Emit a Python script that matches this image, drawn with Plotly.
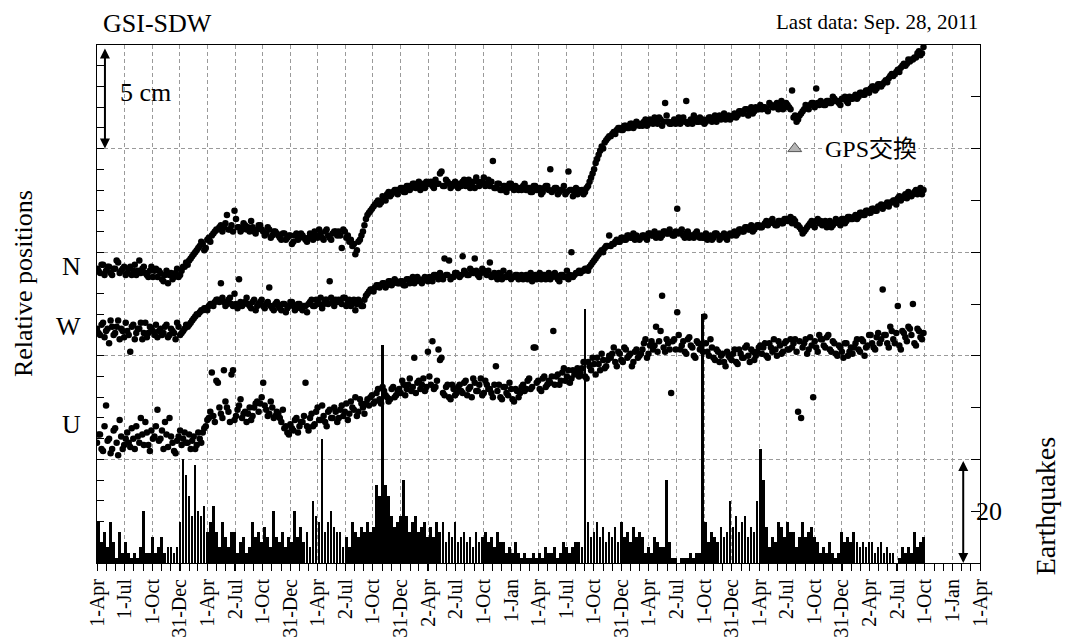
import pandas as pd
import plotly.graph_objects as go

# ---------------- data ----------------
# two interleaved sets of readings, every 10 days, offset by 5 days
START_A = "2004-04-01"
START_B = "2004-04-06"
STEP = "10D"
N_POINTS = 274

# relative positions in mm (axis 0..250 mm)
N_a = [
    142,140,144,141,143,139,142,145,141,143,
    140,143,141,139,146,142,140,138,143,141,
    138,140,136,141,139,137,140,138,141,143,
    144,147,149,151,153,154,152,157,158,160,
    161,163,162,168,161,160,166,162,161,163,
    162,165,160,161,163,160,159,161,158,160,
    158,156,159,157,158,155,159,157,158,156,
    157,158,160,157,159,156,161,157,159,160,
    160,152,160,158,156,154,151,156,160,166,
    169,171,173,175,174,176,178,177,179,180,
    180,181,179,182,181,183,182,180,183,184,
    183,182,185,183,189,182,184,181,183,182,
    183,184,182,185,183,181,184,183,186,183,
    182,194,181,183,180,182,181,183,180,181,
    181,182,180,181,179,182,180,178,181,182,
    190,180,181,179,180,178,189,180,179,178,
    179,178,181,184,188,193,197,201,203,205,
    206,208,209,210,209,211,210,212,211,212,
    212,213,211,214,212,213,215,211,222,213,
    212,214,213,212,215,223,213,212,214,213,
    213,212,214,215,214,213,216,215,214,216,
    215,217,216,218,217,219,218,217,220,219,
    219,220,218,221,220,222,221,219,222,220,
    228,216,214,217,219,220,221,222,229,221,
    222,221,223,222,224,223,221,224,223,225,
    224,226,225,227,226,228,229,230,229,231,
    231,233,234,236,236,238,239,241,241,242,
    243,244,247,246,
]
N_b = [
    141,144,139,143,140,142,146,140,142,139,
    142,139,144,141,140,143,139,141,138,142,
    141,137,139,135,140,138,142,139,143,145,
    146,148,150,152,155,151,156,155,159,161,
    162,160,164,161,163,170,162,160,164,161,
    160,162,159,163,161,158,162,157,160,159,
    157,159,156,158,154,158,156,159,157,155,
    159,156,158,161,157,160,158,156,160,158,
    158,161,157,155,153,149,155,158,163,168,
    170,172,174,173,177,175,179,178,180,178,
    181,179,182,180,183,181,184,182,181,183,
    184,181,183,188,182,185,183,182,184,181,
    182,185,183,181,184,186,182,184,182,185,
    184,181,183,180,182,179,183,181,182,180,
    180,183,181,179,182,180,181,179,182,180,
    179,181,178,180,182,179,180,177,181,180,
    180,179,182,186,190,195,199,200,204,206,
    207,207,210,209,211,210,212,210,213,211,
    211,214,212,213,215,212,214,213,216,212,
    213,212,215,214,213,212,214,216,213,215,
    214,213,215,213,216,215,214,217,215,214,
    216,215,218,217,219,216,220,218,219,221,
    220,219,222,220,221,219,223,220,221,219,
    215,213,216,218,221,219,222,220,222,223,
    221,223,222,225,223,222,224,225,222,224,
    225,224,227,226,228,227,230,228,231,230,
    232,232,235,235,237,237,240,240,243,243,
    244,246,245,249,
]

W_a = [
    113,110,116,112,106,114,111,117,113,109,
    112,102,115,111,113,108,116,111,113,110,
    109,113,111,115,110,112,108,114,111,113,
    114,116,118,120,121,122,123,124,125,126,
    127,135,126,125,128,124,125,137,124,126,
    125,123,127,124,126,124,125,133,123,125,
    124,122,125,123,126,124,123,125,122,124,
    125,127,124,126,128,125,127,136,126,127,
    127,125,128,126,124,127,125,126,124,129,
    131,132,133,134,134,135,134,136,135,136,
    135,136,134,137,136,135,138,136,137,137,
    138,136,139,137,138,147,139,137,138,140,
    138,148,140,139,141,147,139,140,141,139,
    145,139,138,140,137,138,139,137,138,139,
    138,137,139,138,136,139,138,137,139,138,
    137,139,138,136,139,138,137,150,139,140,
    140,141,142,143,145,147,149,151,152,153,
    153,154,156,155,157,156,158,157,156,157,
    157,158,156,159,158,157,159,158,160,159,
    159,158,171,160,158,159,157,158,159,158,
    158,157,156,158,157,159,156,158,157,158,
    158,160,159,161,160,162,161,160,162,163,
    162,164,163,165,164,163,165,164,166,165,
    164,165,163,161,160,162,164,163,165,164,
    163,165,164,162,164,165,163,166,165,167,
    166,168,167,169,168,170,169,171,170,172,
    171,173,172,174,175,176,175,177,176,178,
    178,180,179,178,
]
W_b = [
    111,115,109,113,117,110,114,108,112,116,
    110,114,108,113,116,111,109,114,112,115,
    112,110,114,109,113,111,116,110,112,115,
    115,117,119,120,122,123,122,125,124,127,
    126,128,124,127,125,130,123,126,125,128,
    124,126,122,125,127,123,126,124,122,126,
    123,125,121,124,126,122,125,123,124,121,
    126,124,127,125,123,127,125,128,124,126,
    126,128,124,127,125,122,127,124,127,130,
    132,131,134,133,135,133,136,134,137,135,
    136,134,137,135,138,136,137,135,138,136,
    137,139,138,140,137,139,146,138,140,139,
    139,141,139,142,140,141,138,142,140,141,
    138,140,137,139,141,138,140,138,139,137,
    139,138,137,140,138,137,140,139,137,140,
    138,140,137,139,138,141,139,138,140,141,
    141,142,141,144,146,148,150,150,153,158,
    154,155,155,157,156,158,157,159,158,156,
    158,157,159,158,160,158,157,160,159,161,
    158,160,159,161,157,160,158,157,160,157,
    157,159,157,156,159,158,157,159,156,159,
    159,158,161,160,162,161,163,161,163,162,
    163,165,164,166,163,165,164,166,165,167,
    166,163,162,159,161,163,165,162,166,165,
    164,162,165,163,166,164,166,164,167,166,
    167,166,169,168,170,169,171,170,172,173,
    172,174,174,175,173,177,176,178,179,177,
    179,178,181,180,
]

U_a = [
    58,62,54,76,60,55,65,52,61,57,
    63,56,60,66,58,62,68,57,64,61,
    74,60,55,62,70,58,53,61,57,63,
    58,55,61,57,60,63,66,70,92,68,
    87,72,93,75,68,93,71,76,70,73,
    72,69,75,78,77,87,74,72,75,71,
    72,68,65,63,67,64,70,66,68,87,
    64,72,67,75,69,71,66,74,70,73,
    70,76,73,69,78,74,71,79,75,77,
    76,81,78,84,77,83,80,79,85,81,
    84,88,81,86,83,99,87,84,89,85,
    90,107,85,103,99,81,86,79,84,82,
    86,82,88,84,80,87,83,89,82,86,
    84,80,95,86,79,85,81,84,78,83,
    82,86,84,89,85,104,88,83,90,86,
    87,112,90,86,92,88,93,89,91,94,
    92,97,89,95,99,91,96,101,94,98,
    99,104,95,101,97,103,100,95,102,99,
    101,106,99,105,103,114,107,129,102,106,
    82,108,121,103,107,101,109,104,99,106,
    105,119,102,108,99,103,97,101,95,100,
    98,103,96,101,99,105,97,102,100,104,
    101,106,99,104,108,100,105,102,107,103,
    104,108,73,70,106,101,109,80,104,110,
    108,104,110,102,106,100,104,99,106,102,
    101,106,103,108,100,105,110,104,109,106,
    132,110,104,112,106,124,103,111,107,113,
    125,105,112,108,
]
U_b = [
    62,55,66,59,53,64,58,69,55,60,
    58,65,55,61,70,57,63,54,60,66,
    59,64,68,56,61,54,59,64,60,58,
    62,59,55,63,58,65,69,73,71,88,
    75,70,78,73,91,69,74,79,72,68,
    75,71,77,73,80,76,71,78,70,73,
    70,74,66,62,65,69,63,68,71,66,
    70,66,73,69,76,68,73,70,75,68,
    74,71,77,72,75,80,73,77,72,79,
    80,77,82,79,85,81,78,84,80,83,
    82,86,84,89,85,82,88,86,83,102,
    86,84,88,98,82,85,80,86,81,85,
    83,87,81,85,89,83,86,81,88,84,
    82,86,83,80,85,82,87,79,84,80,
    85,83,88,84,104,87,84,89,85,88,
    90,86,91,88,94,90,87,93,92,90,
    94,90,97,93,96,99,93,98,95,100,
    101,97,102,98,104,99,101,97,103,100,
    103,108,101,107,105,102,112,104,108,103,
    107,103,110,105,102,108,105,100,107,103,
    102,106,100,104,98,102,100,97,102,99,
    101,97,103,99,104,100,103,98,102,105,
    104,100,106,102,103,107,101,106,103,108,
    106,102,107,104,108,103,105,107,102,108,
    105,109,103,107,101,105,102,106,100,104,
    104,108,102,107,104,110,106,103,111,108,
    110,106,114,108,111,105,112,109,114,110,
    106,113,109,111,
]

# earthquake counts per 10-day bin (bins start at START_A)
EQ_counts = [
    8,4,6,3,8,4,1,6,2,4,
    2,1,2,1,3,10,2,2,5,2,
    3,5,2,3,3,2,3,8,20,17,
    13,9,19,10,9,11,6,8,11,6,
    3,8,5,3,6,6,2,4,5,2,
    3,8,5,6,4,7,5,3,10,5,
    4,6,3,5,4,10,5,7,4,6,
    3,12,9,8,24,6,8,10,7,6,
    6,3,5,3,8,6,5,7,6,8,
    6,7,15,13,42,15,13,9,7,8,
    9,16,9,6,8,9,6,7,8,5,
    7,5,8,6,8,4,6,5,8,4,
    5,6,4,5,3,6,4,5,6,4,
    5,3,6,4,4,2,3,2,4,2,
    1,2,1,1,2,1,2,1,3,2,
    2,3,1,2,4,3,2,3,4,4,
    3,49,8,5,6,8,5,7,4,6,
    5,7,4,8,5,6,4,7,5,6,
    5,2,3,2,5,4,3,3,16,4,
    1,1,0,1,1,1,2,1,2,2,
    48,8,4,6,5,4,7,5,6,12,
    7,9,6,8,9,5,7,6,12,22,
    16,7,3,5,4,8,7,5,8,6,
    6,3,5,8,5,6,7,5,4,2,
    3,2,4,2,1,2,6,4,5,4,
    6,4,3,4,3,4,4,2,3,4,
    2,3,2,2,0,1,3,2,3,2,
    6,3,4,5,
]

TICK_DATES = [
    "2004-04-01", "2004-07-01", "2004-10-01", "2004-12-31",
    "2005-04-01", "2005-07-02", "2005-10-01", "2005-12-31",
    "2006-04-01", "2006-07-02", "2006-10-01", "2006-12-31",
    "2007-04-02", "2007-07-02", "2007-10-01", "2008-01-01",
    "2008-04-01", "2008-07-01", "2008-10-01", "2008-12-31",
    "2009-04-01", "2009-07-02", "2009-10-01", "2009-12-31",
    "2010-04-01", "2010-07-02", "2010-10-01", "2010-12-31",
    "2011-04-02", "2011-07-02", "2011-10-01", "2012-01-01",
    "2012-04-01",
]
TICK_LABELS = [
    "1-Apr", "1-Jul", "1-Oct", "31-Dec",
    "1-Apr", "2-Jul", "1-Oct", "31-Dec",
    "1-Apr", "2-Jul", "1-Oct", "31-Dec",
    "2-Apr", "2-Jul", "1-Oct", "1-Jan",
    "1-Apr", "1-Jul", "1-Oct", "31-Dec",
    "1-Apr", "2-Jul", "1-Oct", "31-Dec",
    "1-Apr", "2-Jul", "1-Oct", "31-Dec",
    "2-Apr", "2-Jul", "1-Oct", "1-Jan",
    "1-Apr",
]

GPS_EXCHANGE_DATE = ["2010-07-28"]
GPS_MARK_LEVEL = [200]

SERIES_LABELS = ["N", "W", "U"]
SERIES_LABEL_LEVELS = [143, 114, 67]

# ---------------- figure ----------------
dates_a = list(pd.date_range(START_A, periods=N_POINTS, freq=STEP))
dates_b = list(pd.date_range(START_B, periods=N_POINTS, freq=STEP))

SERIF = "Liberation Serif"
CJK = "Liberation Serif, Noto Sans CJK JP"
GRID = "#9a9a9a"

fig = go.Figure()

fig.add_trace(go.Bar(
    x=dates_a, y=EQ_counts, yaxis="y2",
    width=9 * 86400000, marker=dict(color="black", line=dict(width=0)),
    offset=0,
))

for va, vb in ((N_a, N_b), (W_a, W_b), (U_a, U_b)):
    fig.add_trace(go.Scatter(
        x=dates_a + dates_b, y=va + vb, mode="markers",
        marker=dict(color="black", size=6.5, line=dict(width=0)),
    ))

fig.add_trace(go.Scatter(
    x=GPS_EXCHANGE_DATE, y=GPS_MARK_LEVEL, mode="markers",
    marker=dict(symbol="triangle-up", size=12, color="#b4b4b4",
                line=dict(color="#555555", width=1)),
))

annotations = [
    dict(text="GSI-SDW", xref="paper", yref="paper", x=0.005, y=1.042,
         xanchor="left", yanchor="middle", showarrow=False,
         font=dict(family=SERIF, size=26, color="black")),
    dict(text="Last data: Sep. 28, 2011", xref="paper", yref="paper", x=1.0, y=1.045,
         xanchor="right", yanchor="middle", showarrow=False,
         font=dict(family=SERIF, size=21, color="black")),
    dict(text="Relative positions", xref="paper", yref="paper", x=-0.084, y=0.54,
         xanchor="center", yanchor="middle", textangle=-90, showarrow=False,
         font=dict(family=SERIF, size=26, color="black")),
    dict(text="Earthquakes", xref="paper", yref="paper", x=1.074, y=0.11,
         xanchor="center", yanchor="middle", textangle=-90, showarrow=False,
         font=dict(family=SERIF, size=28, color="black")),
    dict(text="5 cm", xref="paper", yref="y", x=0.024, y=227,
         xanchor="left", yanchor="middle", showarrow=False,
         font=dict(family=SERIF, size=26, color="black")),
    dict(text="20", xref="paper", yref="y2", x=0.993, y=10,
         xanchor="left", yanchor="middle", showarrow=False,
         font=dict(family=SERIF, size=26, color="black")),
    dict(text="GPS交換", xref="paper", yref="y", x=0.822, y=200,
         xanchor="left", yanchor="middle", showarrow=False, bgcolor="white",
         font=dict(family=CJK, size=24, color="black")),
    # 5 cm double arrow
    dict(text="", xref="paper", yref="y", x=0.009, y=200,
         axref="pixel", ax=0, ayref="y", ay=249,
         showarrow=True, arrowside="end+start", arrowhead=2, arrowsize=1,
         arrowwidth=2, arrowcolor="black", standoff=0, startstandoff=0),
    # 20 earthquakes double arrow
    dict(text="", xref="paper", yref="y2", x=0.981, y=0,
         axref="pixel", ax=0, ayref="y2", ay=20,
         showarrow=True, arrowside="end+start", arrowhead=2, arrowsize=1,
         arrowwidth=2, arrowcolor="black", standoff=0, startstandoff=0),
]
for lab, lev in zip(SERIES_LABELS, SERIES_LABEL_LEVELS):
    annotations.append(dict(text=lab, xref="paper", yref="y", x=-0.016, y=lev,
                            xanchor="right", yanchor="middle", showarrow=False,
                            font=dict(family=SERIF, size=26, color="black")))

fig.update_layout(
    width=1065, height=642,
    margin=dict(l=97, r=85, t=45, b=79, autoexpand=False),
    paper_bgcolor="white", plot_bgcolor="white",
    showlegend=False, bargap=0,
    font=dict(family=SERIF, color="black"),
    annotations=annotations,
    xaxis=dict(
        type="date", range=["2004-04-01", "2012-04-01"],
        tickmode="array", tickvals=TICK_DATES, ticktext=TICK_LABELS,
        tickangle=-90, tickfont=dict(family=SERIF, size=20, color="black"),
        ticks="outside", ticklen=7, tickcolor="black", tickwidth=1,
        showgrid=True, gridcolor=GRID, griddash="4px,3px", gridwidth=1,
        showline=True, linecolor="black", linewidth=1, mirror=True,
        zeroline=False, automargin=False,
        minor=dict(tick0="2004-04-01", dtick="M1", ticks="outside",
                   ticklen=7, tickcolor="black", tickwidth=1, showgrid=False),
    ),
    yaxis=dict(
        range=[0, 250], tick0=0, dtick=50, showticklabels=False,
        ticks="inside", ticklen=7, tickcolor="black",
        showgrid=True, gridcolor=GRID, griddash="4px,3px", gridwidth=1,
        showline=True, linecolor="black", linewidth=1,
        zeroline=False, automargin=False,
        minor=dict(tick0=0, dtick=10, ticks="inside", ticklen=7,
                   tickcolor="black", showgrid=False),
    ),
    yaxis2=dict(
        range=[0, 100], overlaying="y", side="right", tick0=0, dtick=10,
        showticklabels=False, ticks="inside", ticklen=9, tickcolor="black",
        showgrid=False, showline=True, linecolor="black", linewidth=1,
        zeroline=False, automargin=False,
    ),
)

fig.write_html(
    "out.html",
    config={"displayModeBar": False},
    post_script="document.body.style.margin='0px';document.body.style.overflow='hidden';",
)
